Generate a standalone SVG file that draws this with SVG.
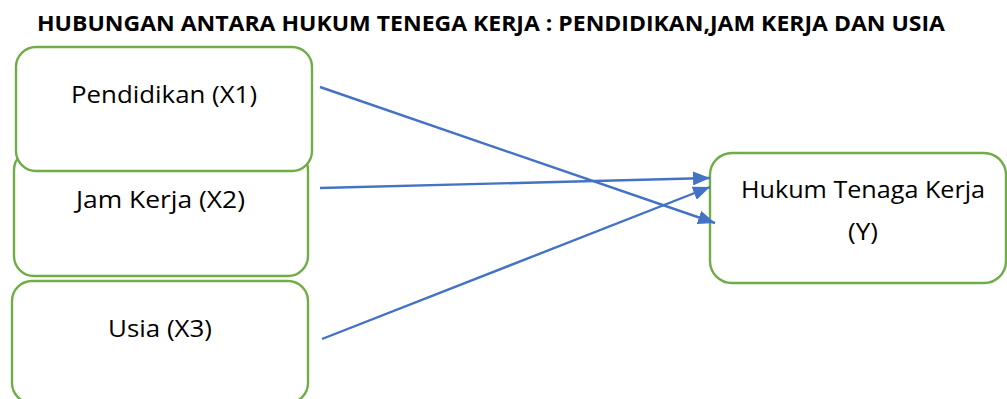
<svg xmlns="http://www.w3.org/2000/svg" width="1007" height="399" viewBox="0 0 1007 399">
<style>
.box{fill:#fff;stroke:#70AD47;stroke-width:2.4}
.lbl{font-family:"Open Sans","Liberation Sans",sans-serif;font-size:23px;fill:#000;text-anchor:middle}
.title{font-family:"Open Sans","Liberation Sans",sans-serif;font-size:21.5px;font-weight:bold;fill:#000}
.conn{stroke:#4472C4;stroke-width:2.4;fill:none;marker-end:url(#ah)}
</style>
<defs>
<marker id="ah" markerUnits="userSpaceOnUse" markerWidth="18" markerHeight="14" refX="17" refY="7" orient="auto">
<path d="M0,0 L17,7 L0,14 Z" fill="#4472C4"/>
</marker>
</defs>
<rect width="1007" height="399" fill="#fff"/>
<text class="title" x="37" y="31" textLength="908" lengthAdjust="spacingAndGlyphs">HUBUNGAN ANTARA HUKUM TENEGA KERJA : PENDIDIKAN,JAM KERJA DAN USIA</text>
<g id="node-x2">
<rect class="box" x="14" y="150" width="294" height="126" rx="20"/>
<text class="lbl" x="160.5" y="208" textLength="169" lengthAdjust="spacingAndGlyphs">Jam Kerja (X2)</text>
</g>
<g id="node-x1">
<rect class="box" x="16" y="47" width="296" height="124" rx="20"/>
<text class="lbl" x="164" y="103" textLength="186" lengthAdjust="spacingAndGlyphs">Pendidikan (X1)</text>
</g>
<g id="node-x3">
<rect class="box" x="12" y="281" width="296" height="122" rx="20"/>
<text class="lbl" x="160" y="337" textLength="104" lengthAdjust="spacingAndGlyphs">Usia (X3)</text>
</g>
<g id="node-y">
<rect class="box" x="710" y="153" width="296" height="130" rx="22"/>
<text class="lbl" x="863" y="198" textLength="244" lengthAdjust="spacingAndGlyphs">Hukum Tenaga Kerja</text>
<text class="lbl" x="863" y="240" textLength="30" lengthAdjust="spacingAndGlyphs">(Y)</text>
</g>
<g id="connectors">
<line class="conn" x1="320" y1="87" x2="715" y2="223"/>
<line class="conn" x1="320" y1="188" x2="710" y2="178"/>
<line class="conn" x1="322" y1="339" x2="710" y2="187"/>
</g>
</svg>
